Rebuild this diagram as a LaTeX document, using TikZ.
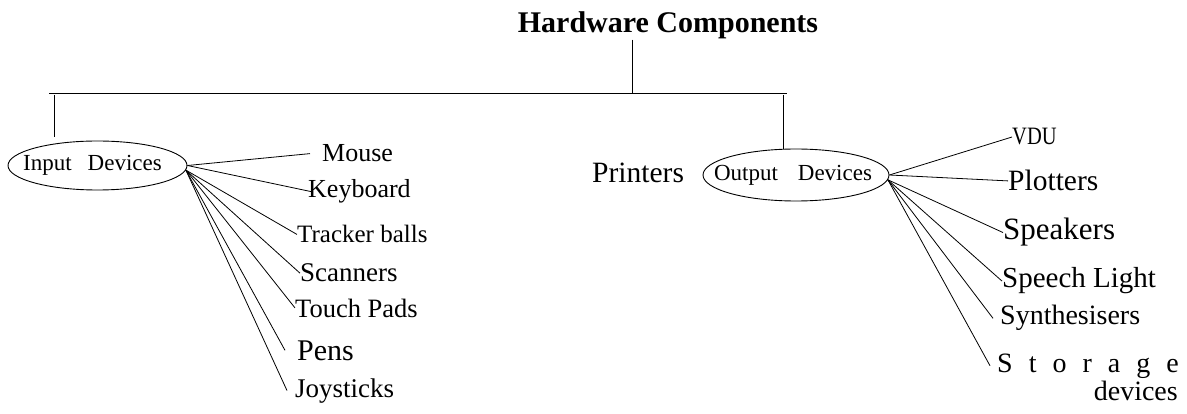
\documentclass[tikz,border=0pt]{standalone}
\usepackage{fontspec}
\usepackage{graphicx}
\setmainfont{Liberation Serif}
\usetikzlibrary{shapes.geometric}
\newcommand{\sz}[1]{\fontsize{#1}{#1}\selectfont}
\newcommand{\widegaps}{\spaceskip=16pt\relax}
\tikzset{
	device/.style n args={2}{ellipse, draw, line width=0.9pt, inner sep=0pt, minimum width=#1, minimum height=#2, font=\sz{23}},
	item/.style={inner sep=0pt, anchor=base west, font=\sz{#1}},
	link/.style={line width=0.8pt}
}
\begin{document}
\begin{tikzpicture}[x=1pt,y=-1pt]
	\useasboundingbox (0,0) rectangle (1187,414);
	% top of the tree
	\node[font=\sz{30}\bfseries, inner sep=0pt, anchor=base] (title) at (668,33) {Hardware Components};
	\coordinate (root) at (632,93);
	\coordinate (barL) at (49,93);
	\coordinate (barR) at (787,93);
	\coordinate (dropL) at (54,95);
	\coordinate (dropR) at (783,95);
	\draw[link] (title.south -| root) -- (root);
	\draw[link] (barL) -- (barR);

	\node[device={179pt}{49pt}] (in) at (97.5,165.5) {\makebox[0pt]{\kern-10pt Input\hspace{16pt}Devices}};
	\node[device={186pt}{52pt}] (out) at (796,175) {\makebox[0pt]{\kern-6pt Output\hspace{20pt}Devices}};
	\node[item=29.5] (printers) at (592,183) {Printers};
	\draw[link] (dropL) -- ([yshift=4pt]dropL |- in.north);
	\draw[link] (dropR) -- (dropR |- out.north);

	% input side
	\node[item=26] (mouse) at (322,162) {Mouse};
	\node[item=26] (kbd) at (308,198) {Keyboard};
	\node[item=25] (track) at (297,243) {Tracker balls};
	\node[item=27] (scan) at (300,282) {Scanners};
	\node[item=26.5] (touch) at (295,317) {Touch Pads};
	\node[item=30] (pens) at (297,360) {Pens};
	\node[item=27] (joy) at (295,397) {Joysticks};

	\draw[link] (in.east) -- ([xshift=-12pt]mouse.west);
	\draw[link] (in.east) -- ([xshift=4pt]kbd.west);
	\foreach \leaf in {track,scan,touch} {\draw[link] (in.-3) -- (\leaf.west);}
	\draw[link] (in.-3) -- ([xshift=-12pt]pens.west);
	\draw[link] (in.-3) -- ([xshift=-8pt]joy.west);

	% output side
	\node[item=25] (vdu) at (1012,145) {\scalebox{0.82}[1]{VDU}};
	\node[item=29.5] (plot) at (1008,191) {Plotters};
	\node[item=31] (spk) at (1003,240) {Speakers};
	\node[item=29] (speech) at (1002,288) {Speech Light};
	\node[item=28] (synth) at (1000,325) {Synthesisers};
	\node[item=28] (stor) at (997,372) {\widegaps S t o r a g e};
	\node[item=28, anchor=base east] (devs) at (1178,400) {devices};

	\draw[link] (out.east) -- (vdu.west);
	\draw[link] (out.east) -- (plot.west);
	\foreach \leaf in {spk,speech} {\draw[link] (out.-3) -- (\leaf.west);}
	\draw[link] (out.-3) -- ([xshift=-7pt]synth.west);
	\draw[link] (out.-3) -- ([xshift=-7pt]stor.west);
\end{tikzpicture}
\end{document}
